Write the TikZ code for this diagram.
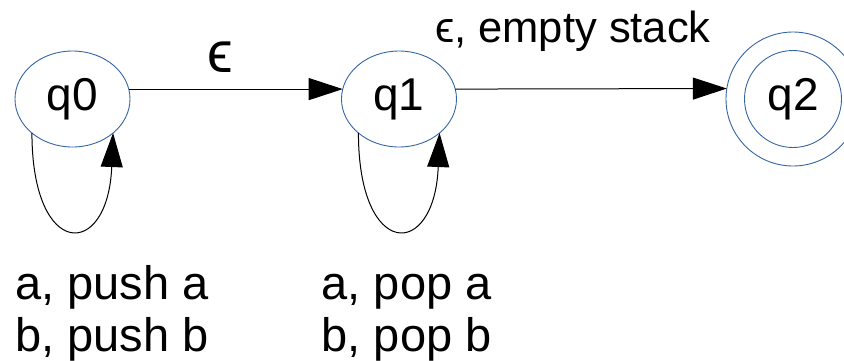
\documentclass[tikz,border=0pt]{standalone}
\usepackage{fontspec}
\setmainfont{Liberation Sans}
\usetikzlibrary{shapes.geometric,arrows.meta}
\definecolor{stateblue}{HTML}{3465A4}
\tikzset{
  stateell/.style={ellipse, draw=stateblue, line width=0.9pt, inner sep=0pt, outer sep=0pt, minimum width=115pt, minimum height=96pt, font=\fontsize{46}{48}\selectfont},
  finalst/.style={circle, draw=stateblue, line width=0.9pt, inner sep=0pt, outer sep=0pt, minimum size=134pt, font=\fontsize{46}{48}\selectfont},
  arr/.style={line width=1pt, -{Triangle[length=34pt,width=22pt]}},
  lbl/.style={inner sep=0pt, font=\fontsize{47}{52}\selectfont, align=left}
}
\begin{document}
\begin{tikzpicture}[x=1pt,y=-1pt]
\useasboundingbox (0,0) rectangle (844,360);
\node[stateell] (q0) at (72.5,99) {q0};
\node[stateell] (q1) at (399,99) {q1};
\node[finalst] (q2) at (793,99) {q2};
\draw[stateblue, line width=0.9pt] (q2.center) circle (48.5);
\draw[arr] (q0.10) -- (q1.170);
\draw[arr] (q1.10) -- (q2.171.4);
\draw[arr] (q0.220) .. controls +(0,127) and +(-5,127) .. (q0.320);
\draw[arr] (q1.220) .. controls +(0,127) and +(-5,127) .. (q1.320);
\node[lbl, font=\fontsize{58}{60}\selectfont] (e1) at (220,57) {ϵ};
\node[lbl, anchor=base west, font=\fontsize{43.5}{48}\selectfont] (e2) at (435,42) {ϵ, empty stack};
\node[lbl, anchor=north west] (l0) at (15,265.3) {a, push a\\b, push b};
\node[lbl, anchor=north west] (l1) at (321.5,265.3) {a, pop a\vphantom{h}\\b, pop b};
\end{tikzpicture}
\end{document}
